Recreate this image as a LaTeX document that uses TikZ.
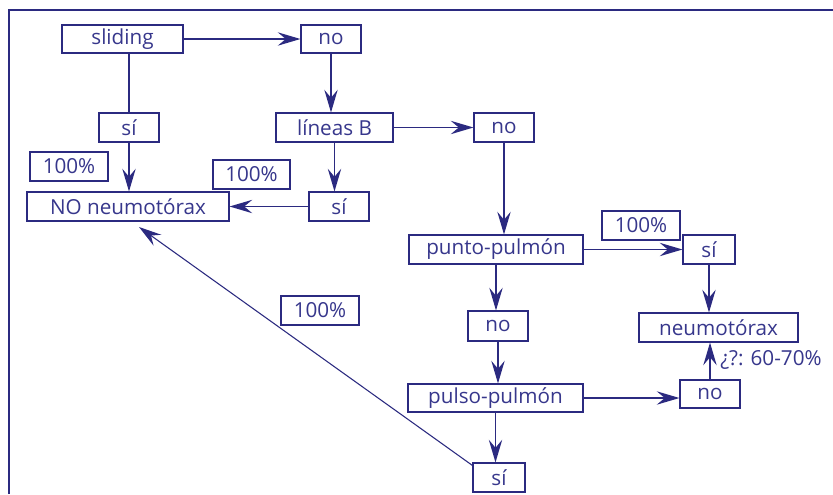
\documentclass[tikz,border=0pt]{standalone}
\usepackage{fontspec}
\setmainfont{Open Sans}
\usetikzlibrary{arrows.meta}
\definecolor{navy}{RGB}{43,42,128}
\definecolor{navytext}{RGB}{55,55,140}
\begin{document}
\begin{tikzpicture}[x=0.75pt,y=-0.75pt,
  box/.style={draw=navy,line width=0.8pt,text=navytext,inner sep=0pt,font=\fontsize{15.5}{17}\selectfont},
  sz/.style 2 args={minimum width=#1*0.75pt,minimum height=#2*0.75pt},
  arr/.style={draw=navy,line width=1.3pt,-{Stealth[length=17pt,width=10pt,inset=6pt]}},
  ln/.style={draw=navy,line width=1.3pt},
  thinarr/.style={draw=navy,line width=0.8pt,-{Stealth[length=17pt,width=10pt,inset=6pt]}}]
\useasboundingbox (0,0) rectangle (833,494);
\fill[white] (0,0) rectangle (833,494);
\draw[navy,line width=2.2pt] (9,494) -- (9,10) -- (833,10);

\node[box,sz={121}{28}] (sliding) at (122.5,39) {sliding};
\node[box,sz={60}{28}] (no1) at (331,39) {no};
\node[box,sz={60}{29}] (si1) at (129,127.5) {sí};
\node[box,sz={78}{29}] (pa) at (69,166.5) {100\%};
\node[box,sz={117}{29}] (lineas) at (334.5,127.5) {líneas B};
\node[box,sz={60}{29}] (no2) at (504,127.5) {no};
\node[box,sz={77}{29}] (pb) at (251.5,174.5) {100\%};
\node[box,sz={202}{29}] (nonm) at (128,206.5) {NO neumotórax};
\node[box,sz={60}{29}] (si2) at (339,206.5) {sí};
\node[box,sz={174}{29}] (punto) at (496,249.5) {punto-pulmón};
\node[box,sz={78}{29}] (pc) at (641,225.5) {100\%};
\node[box,sz={52}{29}] (si3) at (709,249.5) {sí};
\node[box,sz={60}{30}] (no3) at (498,326) {no};
\node[box,sz={159}{29}] (neumo) at (718.5,327.5) {neumotórax};
\node[text=navytext,font=\fontsize{15.5}{17}\selectfont,anchor=west,inner sep=0pt] (lbl) at (720,360) {¿?: 60-70\%};
\node[box,sz={175}{28}] (pulso) at (495.5,398) {pulso-pulmón};
\node[box,sz={60}{28}] (no4) at (710,394) {no};
\node[box,sz={52}{29}] (si4) at (499,477.5) {sí};
\node[box,sz={78}{29}] (pd) at (320,310.5) {100\%};
\coordinate (tipc) at (139,227);

\draw[arr] (sliding.east) -- (no1.west);
\draw[ln] (si1.north |- sliding.south) -- (si1.north);
\draw[arr] (si1.south) -- (si1.south |- nonm.north);
\draw[arr] (no1.south) -- (no1.south |- lineas.north);
\draw[arr] (lineas.east) -- (no2.west);
\draw[arr] (lineas.south) -- (lineas.south |- si2.north);
\draw[arr] (si2.west) -- (nonm.east);
\draw[arr] (no2.south) -- (no2.south |- punto.north);
\draw[arr] (punto.east) -- (si3.west);
\draw[arr] (si3.south) -- (si3.south |- neumo.north);
\draw[arr] (punto.south) -- (punto.south |- no3.north);
\draw[arr] (no3.south) -- (no3.south |- pulso.north);
\draw[arr] (pulso.east) -- (pulso.east -| no4.west);
\draw[arr] (no4.north) -- (no4.north |- neumo.south);
\draw[arr] (pulso.south) -- (pulso.south |- si4.north);
\draw[thinarr] ([yshift=-3*0.75pt]si4.north west) -- (tipc);
\end{tikzpicture}
\end{document}
